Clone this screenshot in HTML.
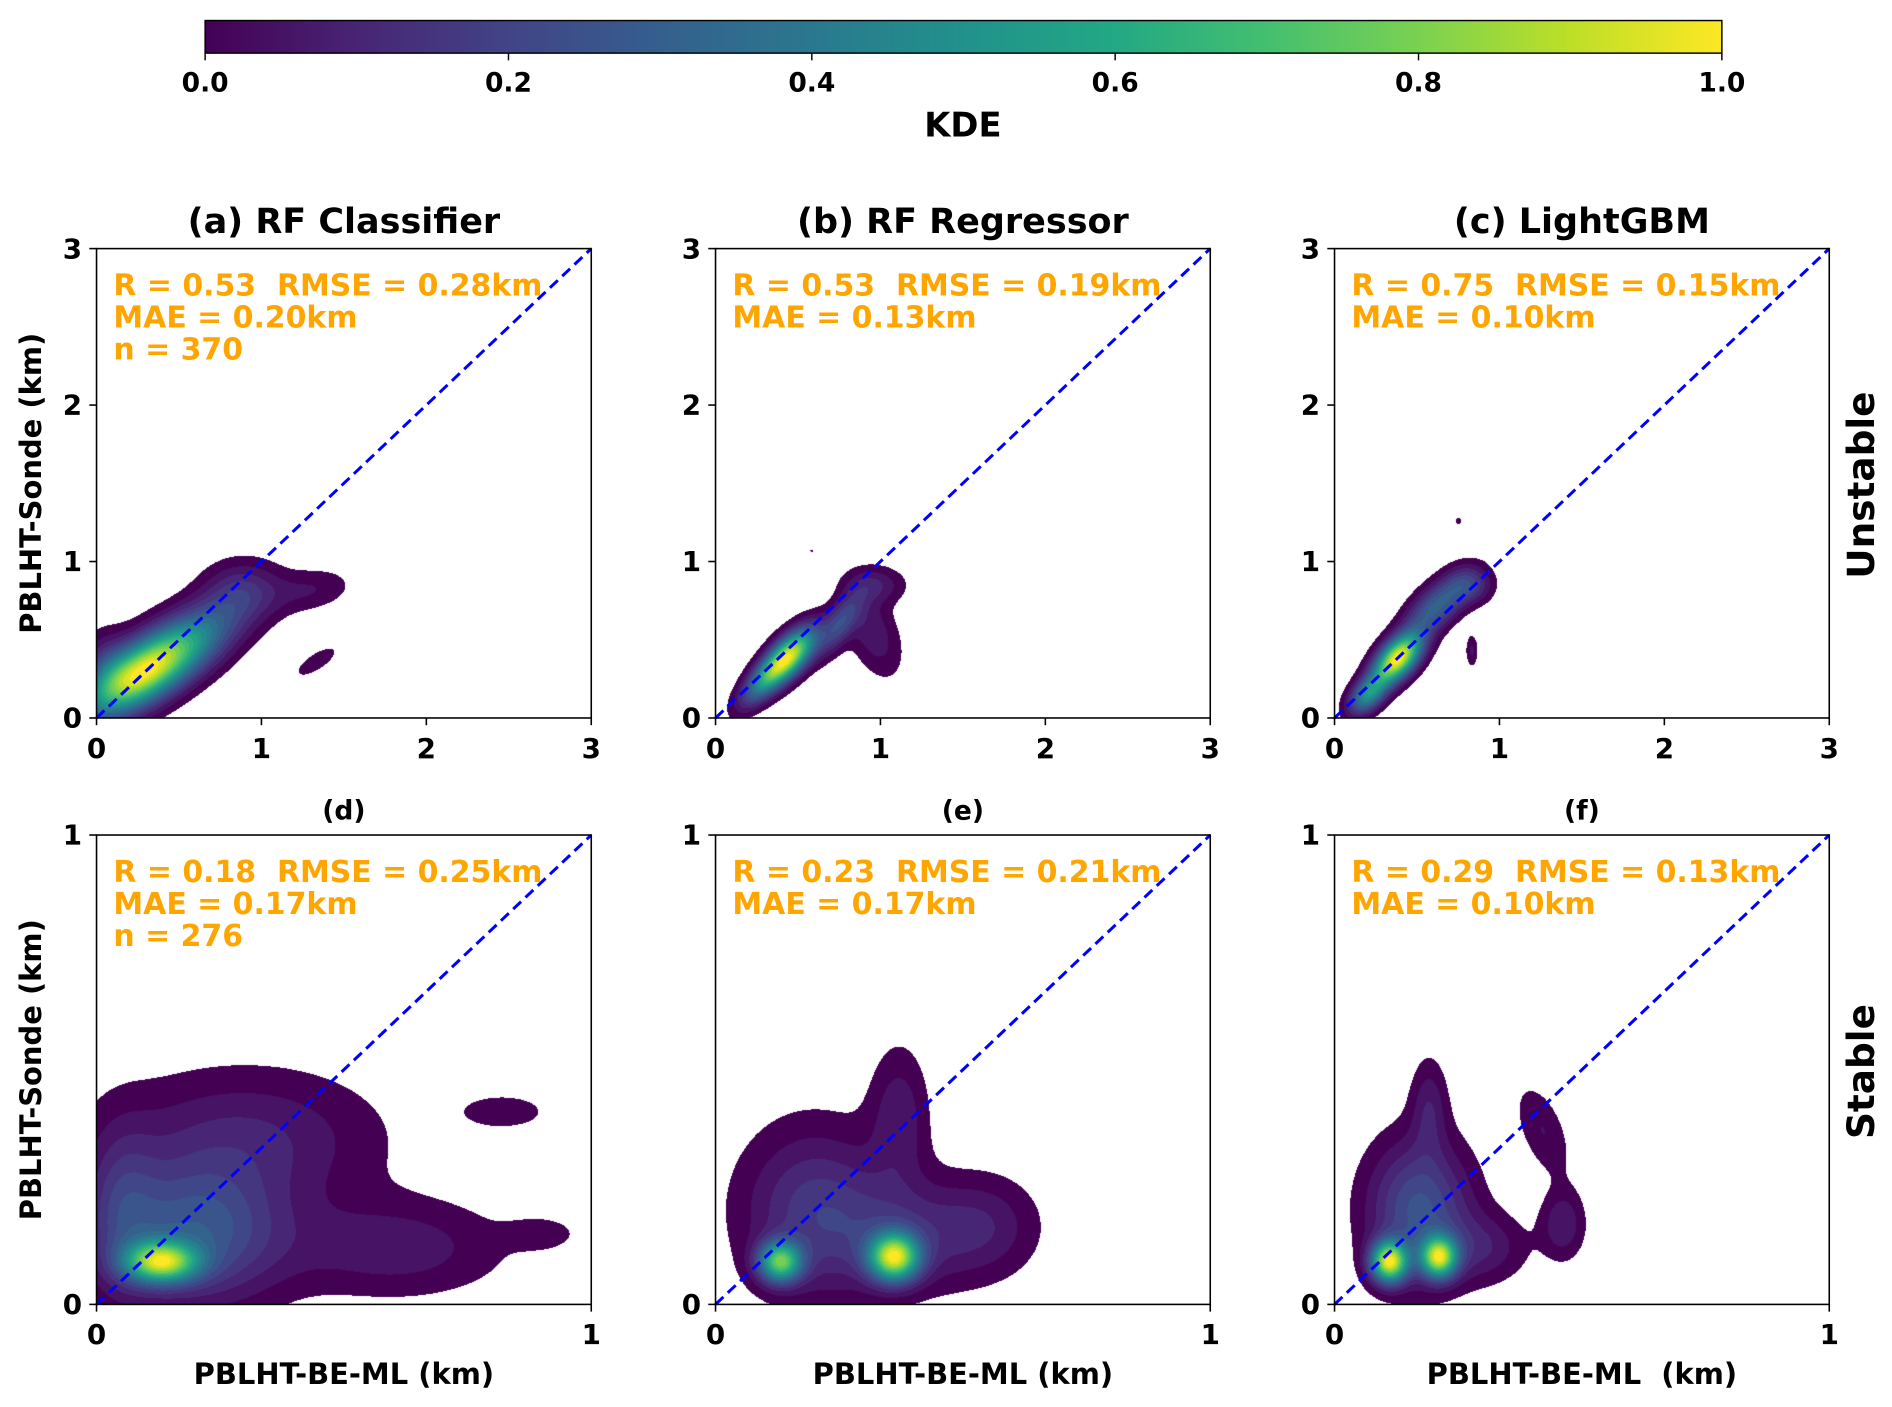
<!DOCTYPE html>
<html><head><meta charset="utf-8"><style>
html,body{margin:0;padding:0;background:#fff;}
#wrap{position:relative;width:1892px;height:1407px;overflow:hidden;}
canvas{position:absolute;z-index:0;}
svg{position:absolute;left:0;top:0;z-index:1;display:block;font-family:"DejaVu Sans","Liberation Sans",sans-serif;font-weight:bold;}
text{white-space:pre;}
</style></head><body>
<div id="wrap">
<svg id="fig" width="1892" height="1407" viewBox="0 0 1568 1166" xmlns="http://www.w3.org/2000/svg">
<defs>
<linearGradient id="vir" x1="0" x2="1" y1="0" y2="0">
<stop offset="0" stop-color="#440154"/><stop offset="0.1" stop-color="#482475"/><stop offset="0.2" stop-color="#414487"/><stop offset="0.3" stop-color="#355f8d"/><stop offset="0.4" stop-color="#2a788e"/><stop offset="0.5" stop-color="#21918c"/><stop offset="0.6" stop-color="#22a884"/><stop offset="0.7" stop-color="#44bf70"/><stop offset="0.8" stop-color="#7ad151"/><stop offset="0.9" stop-color="#bddf26"/><stop offset="1" stop-color="#fde725"/>
</linearGradient>
</defs>
<g>
<rect x="170" y="17" width="1257" height="27" fill="url(#vir)" stroke="#000" stroke-width="1.2"/>
<g id="cbticks"></g>
<text x="798" y="113" font-size="28" text-anchor="middle">KDE</text>
</g>
<g id="panels"></g>
<text transform="translate(1553,402) rotate(-90)" font-size="31" text-anchor="middle">Unstable</text>
<text transform="translate(1553,888) rotate(-90)" font-size="31" text-anchor="middle">Stable</text>
</svg>
</div>
<script>
const NS="http://www.w3.org/2000/svg";
const cbTickLabels=["0.0","0.2","0.4","0.6","0.8","1.0"];
const cbTickValues=[0,0.2,0.4,0.6,0.8,1.0];
const panelTitles=["(a) RF Classifier","(b) RF Regressor","(c) LightGBM","(d)","(e)","(f)"];
const panelMax=[3,3,3,1,1,1];
const statsR=["0.53","0.53","0.75","0.18","0.23","0.29"];
const statsRMSE=["0.28","0.19","0.15","0.25","0.21","0.13"];
const statsMAE=["0.20","0.13","0.10","0.17","0.17","0.10"];
const statsN=["370","","","276","",""];
// gaussian components: [x, y, sx, sy, rotationDeg, amplitude]
const blobsA=[[0.22,0.25,0.25,0.12,35,1.0],[0.5,0.45,0.3,0.13,35,0.7],[0.88,0.82,0.16,0.13,0,0.2],[1.3,0.82,0.17,0.09,10,0.12],[1.33,0.36,0.12,0.045,35,0.1],[0.05,0.35,0.1,0.15,0,0.15]];
const blobsB=[[0.45,0.4,0.15,0.07,50,1.0],[0.3,0.25,0.15,0.06,50,0.5],[0.75,0.6,0.15,0.06,60,0.3],[0.97,0.85,0.12,0.08,0,0.15],[0.95,0.55,0.1,0.2,20,0.15],[0.58,1.07,0.012,0.012,0,0.06]];
const blobsC=[[0.38,0.38,0.13,0.07,50,1.0],[0.2,0.15,0.1,0.06,50,0.5],[0.62,0.72,0.17,0.08,45,0.35],[0.82,0.85,0.09,0.08,0,0.18],[0.83,0.43,0.025,0.07,0,0.1],[0.75,1.26,0.018,0.022,0,0.06]];
const blobsD=[[0.13,0.09,0.05,0.03,0,0.75],[0.2,0.15,0.12,0.1,0,0.3],[0.3,0.35,0.18,0.1,0,0.14],[0.6,0.12,0.15,0.07,0,0.12],[0.9,0.15,0.05,0.025,0,0.06],[0.82,0.41,0.06,0.025,0,0.08],[0.05,0.2,0.05,0.12,0,0.15]];
const blobsE=[[0.13,0.09,0.03,0.03,0,0.7],[0.36,0.1,0.035,0.035,0,0.85],[0.2,0.2,0.1,0.12,0,0.2],[0.37,0.4,0.04,0.1,0,0.12],[0.55,0.17,0.07,0.07,0,0.08],[0.4,0.15,0.12,0.08,0,0.15]];
const blobsF=[[0.11,0.09,0.025,0.03,0,0.6],[0.21,0.1,0.025,0.03,0,0.55],[0.17,0.2,0.07,0.1,0,0.2],[0.19,0.42,0.025,0.07,0,0.08],[0.42,0.37,0.03,0.07,20,0.06],[0.46,0.17,0.03,0.05,0,0.09],[0.3,0.12,0.06,0.05,0,0.08]];
const allBlobs=[blobsA,blobsB,blobsC,blobsD,blobsE,blobsF];
const panelX=[80,593,1106,80,593,1106];
const panelY=[206,206,206,692,692,692];
const PW=410, PH=389, S=1892/1568;
const vir=["#440154","#482475","#414487","#355f8d","#2a788e","#21918c","#22a884","#44bf70","#7ad151","#bddf26","#fde725"];
function vrgb(t){t=Math.max(0,Math.min(1,t));const f=t*10,i=Math.min(9,Math.floor(f)),u=f-i;
 const a=vir[i],b=vir[i+1];const p=(h,k)=>parseInt(h.substr(k,2),16);
 return [1,3,5].map(k=>Math.round(p(a,k)*(1-u)+p(b,k)*u));}
function el(tag,attrs,parent){const e=document.createElementNS(NS,tag);for(const k in attrs)e.setAttribute(k,attrs[k]);parent.appendChild(e);return e;}
const wrap=document.getElementById('wrap');
const cbt=document.getElementById('cbticks');
cbTickValues.forEach((v,i)=>{const x=170+v*1257;
 const t=el('line',{x1:x,x2:x,y1:44,y2:50,stroke:'#000','stroke-width':1.2},cbt);
 
 const l=el('text',{x:x,y:76,'font-size':22,'text-anchor':'middle'},cbt);l.textContent=cbTickLabels[i];
 });
const panels=document.getElementById('panels');
const NL=20, THR=0.04;
allBlobs.forEach((blobs,p)=>{
 const X0=panelX[p],Y0=panelY[p],M=panelMax[p];
 const sx=v=>X0+v/M*PW, sy=v=>Y0+PH-v/M*PH;
 const cw=Math.round(PW*S), ch=Math.round(PH*S);
 const cv=document.createElement('canvas');
 
 
 cv.width=cw;cv.height=ch;cv.style.left=Math.round(X0*S)+'px';cv.style.top=Math.round(Y0*S)+'px';
 wrap.appendChild(cv);
 const ctx=cv.getContext('2d');const img=ctx.createImageData(cw,ch);
 const dens=new Float32Array(cw*ch);let mx=0;
 const comps=blobs.map(b=>{const th=b[4]*Math.PI/180;return {x:b[0],y:b[1],c:Math.cos(th),s:Math.sin(th),sx:b[2],sy:b[3],a:b[5]};});
 for(let j=0;j<ch;j++){const yv=(1-(j+0.5)/ch)*M;
  for(let i=0;i<cw;i++){const xv=(i+0.5)/cw*M;let d=0;
   for(const c of comps){const dx=xv-c.x,dy=yv-c.y;const u=(dx*c.c+dy*c.s)/c.sx,w=(-dx*c.s+dy*c.c)/c.sy;const q=u*u+w*w;if(q<40)d+=c.a*Math.exp(-0.5*q);}
   dens[j*cw+i]=d;if(d>mx)mx=d;}}
 for(let k=0;k<cw*ch;k++){const d=dens[k]/mx;if(d<THR)continue;
  const lvl=Math.floor((d-THR)/(1-THR)*NL)/(NL-1);const c=vrgb(lvl);
  img.data[k*4]=c[0];img.data[k*4+1]=c[1];img.data[k*4+2]=c[2];img.data[k*4+3]=255;}
 ctx.putImageData(img,0,0);
 const g=el('g',{},panels);
 
 
 const d=el('line',{x1:sx(0),y1:sy(0),x2:sx(M),y2:sy(M),stroke:'#0000ff','stroke-width':2.5,'stroke-dasharray':'9,5'},g);
 
 const fr=el('rect',{x:X0,y:Y0,width:PW,height:PH,fill:'none',stroke:'#000','stroke-width':1.3},g);
 
 for(let v=0;v<=M;v++){
  el('line',{x1:sx(v),x2:sx(v),y1:Y0+PH,y2:Y0+PH+6,stroke:'#000','stroke-width':1.3},g);
  el('line',{x1:X0-6,x2:X0,y1:sy(v),y2:sy(v),stroke:'#000','stroke-width':1.3},g);
  const tx=el('text',{x:sx(v),y:Y0+PH+33,'font-size':23,'text-anchor':'middle'},g);tx.textContent=v;
  
  const ty=el('text',{x:X0-12,y:sy(v)+8,'font-size':23,'text-anchor':'end'},g);ty.textContent=v;
  
 }
 const ti=el('text',{x:X0+PW/2,y:Y0-13,'font-size':p<3?29:22,'text-anchor':'middle'},g);ti.textContent=panelTitles[p];
 
 const lines=[`R = ${statsR[p]}  RMSE = ${statsRMSE[p]}km`,`MAE = ${statsMAE[p]}km`];
 if(statsN[p])lines.push(`n = ${statsN[p]}`);
 lines.forEach((s,i)=>{const t=el('text',{x:X0+14,y:Y0+39+i*26.5,'font-size':24.8,fill:'#ffa500'},g);t.textContent=s;
  });
 if(p>=3){const xl=el('text',{x:X0+PW/2,y:1147,'font-size':24,'text-anchor':'middle'},g);xl.textContent=p==5?'PBLHT-BE-ML  (km)':'PBLHT-BE-ML (km)';
  }
 if(p%3==0){const yl=el('text',{transform:`translate(34,${Y0+PH/2}) rotate(-90)`,'font-size':24,'text-anchor':'middle'},g);yl.textContent='PBLHT-Sonde (km)';
  }
});
</script>
</body></html>
